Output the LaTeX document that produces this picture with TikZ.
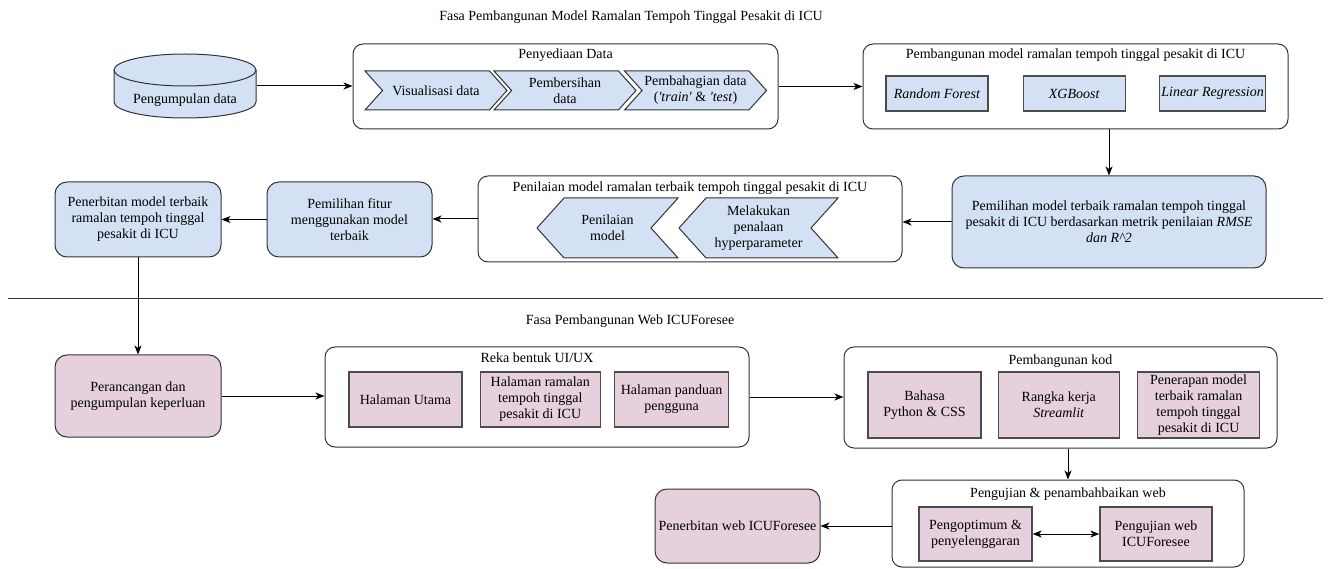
\documentclass[tikz,border=0pt]{standalone}
\usepackage{fontspec}
\setmainfont{Liberation Serif}
\newfontfamily\diagfont{Liberation Serif}
\usetikzlibrary{arrows.meta,shapes,positioning}

\definecolor{bluefill}{HTML}{D4E1F5}
\definecolor{pinkfill}{HTML}{E6D0DE}
\definecolor{edge}{HTML}{333333}

\tikzstyle{grp} = [rectangle, draw=edge, rounded corners=10pt]
\tikzstyle{stage} = [rectangle, draw=edge, rounded corners=12pt, align=center]
\tikzstyle{bstage} = [stage, fill=bluefill]
\tikzstyle{pstage} = [stage, fill=pinkfill]
\tikzstyle{item} = [rectangle, draw=black!70, line width=1.3pt, align=center, inner sep=0pt]
\tikzstyle{bitem} = [item, fill=bluefill]
\tikzstyle{pitem} = [item, fill=pinkfill]
\tikzstyle{chev} = [signal, draw=edge, fill=bluefill, align=center, inner sep=0pt,
    signal pointer angle=96]
\tikzstyle{grplabel} = [inner sep=0pt]

\begin{document}
\begin{tikzpicture}[x=1pt,y=-1pt,line width=1pt,
                    >={Stealth[length=9pt,width=7pt,inset=2.5pt]},
                    every node/.style={font=\diagfont\fontsize{14}{16}\selectfont}]
  \useasboundingbox (0,0) rectangle (1331,569);

  % fasa model
  \node (t1) at (631,17) {Fasa Pembangunan Model Ramalan Tempoh Tinggal Pesakit di ICU};

  % silinder data
  \draw[edge, fill=bluefill] (114,70) -- (114,102)
        arc[start angle=180, end angle=360, x radius=71pt, y radius=16pt] -- (256,70);
  \draw[edge, fill=bluefill] (185,70) ellipse [x radius=71pt, y radius=16pt];
  \node[minimum width=142pt, minimum height=64pt,
        label={[name=dbl, yshift=-14pt]center:Pengumpulan data}] (db) at (185,86) {};

  \node[grp, minimum width=425pt, minimum height=85pt] (pd) at (565.5,86.5) {};
  \node[grplabel, below=5pt of pd.north] (pdl) {Penyediaan Data};
  \node[chev, signal to=east, signal from=west, minimum width=142pt, minimum height=39pt]
        (vis) at (436,90.5) {Visualisasi data};
  \node[chev, signal to=east, signal from=west, minimum width=142pt, minimum height=39pt]
        (pb) at (565,90.5) {Pembersihan\\data};
  \node[chev, signal to=east, signal from=west, minimum width=142pt, minimum height=39pt]
        (pbd) at (695.5,90.5) {Pembahagian data\\(\textit{'train'} \& \textit{'test})};

  \node[grp, minimum width=425pt, minimum height=85pt] (pm) at (1075.5,86.5) {};
  \node[grplabel, below=5pt of pm.north] (pml) {Pembangunan model ramalan tempoh tinggal pesakit di ICU};
  \node[bitem, minimum width=102pt, minimum height=35pt] (rf) at (937,93.5) {\textit{Random Forest}};
  \node[bitem, minimum width=102pt, minimum height=35pt] (xgb) [right=34pt of rf] {\textit{XGBoost}};
  \node[bitem, minimum width=106pt, minimum height=35pt] (lr) [right=33pt of xgb] {\textit{Linear Regression}};

  \node[bstage, minimum width=314pt, minimum height=92pt] (pmt) at (1109,222)
        {Pemilihan model terbaik ramalan tempoh tinggal\\
         pesakit di ICU berdasarkan metrik penilaian \textit{RMSE}\\
         \textit{dan R\^{}2}};

  \node[grp, minimum width=424pt, minimum height=86pt] (pn) at (690,219) {};
  \node[grplabel, below=6pt of pn.north] (pnl) {Penilaian model ramalan terbaik tempoh tinggal pesakit di ICU};
  \node[chev, signal to=west, signal from=east, minimum width=141pt, minimum height=60pt]
        (pnm) at (607.5,228) {Penilaian\\model};
  \node[chev, signal to=west, signal from=east, minimum width=159pt, minimum height=60pt]
        (mp) at (758.5,228) {Melakukan\\penalaan\\hyperparameter};

  \node[bstage, minimum width=165pt, minimum height=75pt] (pf) at (349.5,219.5)
        {Pemilihan fitur\\menggunakan model\\terbaik};
  \node[bstage, minimum width=166pt, minimum height=75pt] (pbm) at (138,219.5)
        {Penerbitan model terbaik\\ramalan tempoh tinggal\\pesakit di ICU};

  \draw[->] (db.east) -- (db.east -| pd.west);
  \draw[->] (pd.east) -- (pm.west);
  \draw[->] (pmt.north |- pm.south) -- (pmt.north);
  \draw[->] (pmt.west) -- (pmt.west -| pn.east);
  \draw[->] (pn.west) -- (pn.west -| pf.east);
  \draw[->] (pf) -- (pbm);

  % garis pemisah
  \draw[edge] (8,299) -- (1323,299);

  % fasa web
  \node (t2) at (630,321) {Fasa Pembangunan Web ICUForesee};

  \node[pstage, minimum width=166pt, minimum height=82pt] (prc) at (138,396)
        {Perancangan dan\\pengumpulan keperluan};

  \node[grp, minimum width=424pt, minimum height=100pt] (rk) at (537,397) {};
  \node[grplabel, below=6pt of rk.north] (rkl) {Reka bentuk UI/UX};
  \node[pitem, minimum width=113pt, minimum height=55pt] (hu) at (405.5,399.5) {Halaman Utama};
  \node[pitem, minimum width=120pt, minimum height=55pt] (hr) [right=17pt of hu]
        {Halaman ramalan\\tempoh tinggal\\pesakit di ICU};
  \node[pitem, minimum width=114pt, minimum height=55pt] (hp) [right=13pt of hr]
        {Halaman panduan\\pengguna};

  \node[grp, minimum width=433pt, minimum height=101pt] (pk) at (1060.5,397.5) {};
  \node[grplabel, below=8pt of pk.north] (pkl) {Pembangunan kod};
  \node[pitem, minimum width=113pt, minimum height=66pt] (bp) at (924.5,405) {Bahasa\\Python \& CSS};
  \node[pitem, minimum width=121pt, minimum height=66pt] (rgk) [right=16pt of bp]
        {Rangka kerja\\\textit{Streamlit}};
  \node[pitem, minimum width=122pt, minimum height=66pt] (pnr) [right=17pt of rgk]
        {Penerapan model\\terbaik ramalan\\tempoh tinggal\\pesakit di ICU};

  \node[grp, minimum width=352pt, minimum height=87pt] (pg) at (1068,523.5) {};
  \node[grplabel, below=8pt of pg.north] (pgl) {Pengujian \& penambahbaikan web};
  \node[pitem, minimum width=113pt, minimum height=54pt] (po) at (975.5,534)
        {Pengoptimum \&\\penyelenggaran};
  \node[pitem, minimum width=112pt, minimum height=54pt] (pw) at (1156,534)
        {Pengujian web\\ICUForesee};

  \node[pstage, minimum width=165pt, minimum height=74pt] (pbw) at (737.5,526)
        {Penerbitan web ICUForesee};

  \draw[->] (pbm) -- (prc);
  \draw[->] (prc.east) -- (prc.east -| rk.west);
  \draw[->] (rk.east) -- (rk.east -| pk.west);
  \draw[->] (pk.south -| pg.north) -- (pg.north);
  \draw[<->] (po) -- (pw);
  \draw[->] (pbw.east -| pg.west) -- (pbw.east);
\end{tikzpicture}
\end{document}
